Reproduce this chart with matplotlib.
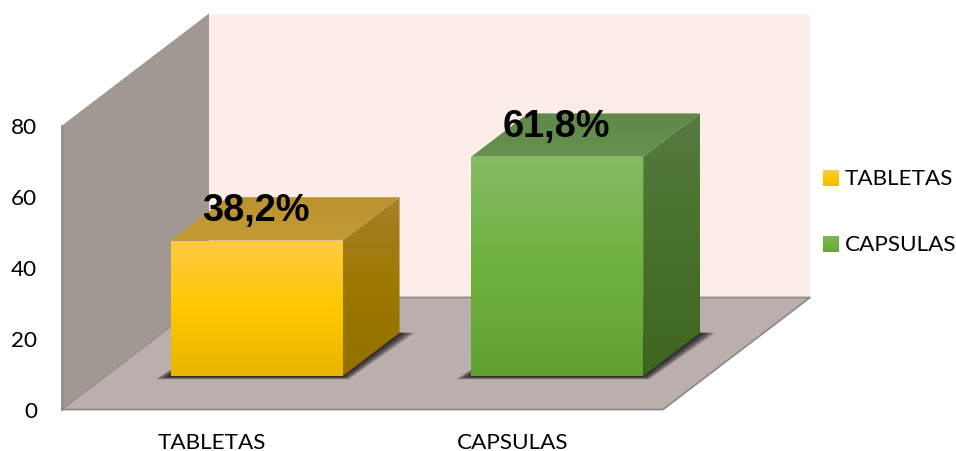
import numpy as np
import matplotlib
matplotlib.use("Agg")
import matplotlib.pyplot as plt
from matplotlib.colors import LinearSegmentedColormap
from matplotlib.patches import Polygon

categories = ["TABLETAS", "CAPSULAS"]
values = [38.2, 61.8]
value_labels = ["38,2%", "61,8%"]
y_ticks = [0, 20, 40, 60, 80]

W, H = 956, 452
plt.rcParams["font.family"] = ["Lato", "DejaVu Sans"]
fig = plt.figure(figsize=(W / 100, H / 100), dpi=100, facecolor="white")
L, R, T, B = 62, 663, 126.5, 410.5
ax = fig.add_axes([L / W, 1 - B / H, (R - L) / W, (B - T) / H])
ax.set_xlim(0, 2)
ax.set_ylim(0, 80)
ax.patch.set_visible(False)
for s in ax.spines.values():
    s.set_visible(False)

PX = (R - L) / 2
PY = (B - T) / 80
DX = 147 / PX
DY = 112 / PY


def P(x, y, d):
    return (x + d * DX, y + d * DY)


def poly(pts, color, z, ec="none", lw=0, alpha=None):
    p = Polygon(pts, closed=True, fc=color, ec=ec, lw=lw, alpha=alpha,
                zorder=z, clip_on=False, transform=ax.transData)
    ax.add_patch(p)
    return p


def grad(pts, stops, z):
    cmap = LinearSegmentedColormap.from_list("g", stops)
    pts = np.array(pts)
    clip = Polygon(pts, closed=True, transform=ax.transData, fc="none", ec="none")
    ax.add_patch(clip)
    arr = np.linspace(0, 1, 256).reshape(-1, 1)
    im = ax.imshow(arr, cmap=cmap, vmin=0, vmax=1, aspect="auto", zorder=z,
                   extent=(pts[:, 0].min(), pts[:, 0].max(), pts[:, 1].min(), pts[:, 1].max()),
                   interpolation="bilinear", origin="upper")
    im.set_clip_box(fig.bbox)
    im.set_clip_path(clip)
    ax.set_xlim(0, 2)
    ax.set_ylim(0, 80)
    return im


# walls and floor
poly([P(0, 0, 1), P(2, 0, 1), P(2, 80, 1), P(0, 80, 1)], "#FCEDE8", 1)
poly([P(0, 0, 0), P(0, 0, 1), P(0, 80, 1), P(0, 80, 0)], "#A19793", 2)
poly([P(0, 0, 0), P(2, 0, 0), P(2, 0, 1), P(0, 0, 1)], "#BBAFAD", 2)
ax.plot(*zip(P(0, 0, 0), P(2, 0, 0), P(2, 0, 1), P(0, 0, 1)), color="#8F8B8A", lw=1.3,
        zorder=3, clip_on=False)
ax.plot(*zip(P(0, 0, 0), P(0, 80, 0)), color="#8F8B8A", lw=1.3, zorder=3, clip_on=False)
ax.plot(*zip(P(0, 0, 0), P(0, 0, 1)), color="#918886", lw=0.8, zorder=3, clip_on=False)

BW = 172 / PX
D0, D1 = 0.298, 0.685
styles = [
    dict(front=["#FFCA45", "#FFC800", "#E8B500"], side=["#A67F28", "#9E7900", "#937000"],
         top=["#BC942F", "#C39B35"]),
    dict(front=["#85BB64", "#6FB13F", "#61A132"], side=["#567A41", "#47722A", "#3E651E"],
         top=["#5F884A", "#679150"]),
]

for i, (v, lab, st) in enumerate(zip(values, value_labels, styles)):
    x0 = i + 0.5 - BW / 2 + 0.002
    x1 = x0 + BW
    # soft shadow on the floor
    for k in range(1, 13):
        gx = k * 1.3 / PX
        gy = k * 0.27 / PY
        poly([(x0 + D0 * DX - gx, -gy + D0 * DY), (x1 + D0 * DX + gx * 0.4, -gy + D0 * DY),
              (x1 + D1 * DX + gx, D1 * DY), (x0 + D1 * DX, D1 * DY)],
             "#141010", 3.5, alpha=0.13)
    grad([P(x0, 0, D0), P(x1, 0, D0), P(x1, v, D0), P(x0, v, D0)], st["front"], 6)
    grad([P(x1, 0, D0), P(x1, 0, D1), P(x1, v, D1), P(x1, v, D0)], st["side"], 5)
    grad([P(x0, v, D0), P(x1, v, D0), P(x1, v, D1), P(x0, v, D1)], st["top"], 5)
    ax.annotate(lab, xy=P(i + 0.5, v, D0), xytext=(0, 22), textcoords="offset points",
                ha="center", va="center", fontsize=27.3, fontweight="bold",
                family="Liberation Sans", color="black", zorder=10, annotation_clip=False)

ax.set_yticks(y_ticks)
ax.set_xticks([0.5, 1.5])
ax.set_xticklabels(categories)
ax.tick_params(axis="both", length=0, labelsize=16.2, colors="black")
ax.tick_params(axis="y", pad=18)
ax.tick_params(axis="x", pad=16)

# legend
lax = fig.add_axes([0, 0, 1, 1], zorder=20)
lax.set_xlim(0, W)
lax.set_ylim(H, 0)
lax.axis("off")
swatches = [["#FFCA45", "#FFC800", "#F0BC00"], ["#7DB75A", "#6FB13F", "#66A636"]]
for name, stops, yc in zip(categories, swatches, [179, 245]):
    cmap = LinearSegmentedColormap.from_list("s", stops)
    lax.imshow(np.linspace(0, 1, 64).reshape(-1, 1), cmap=cmap, vmin=0, vmax=1, aspect="auto",
               extent=(823, 839, yc + 8, yc - 8), origin="upper")
    lax.text(845, yc, name, fontsize=16.2, va="center", ha="left", color="black")
lax.set_xlim(0, W)
lax.set_ylim(H, 0)

fig.savefig("out.png", dpi=100)
